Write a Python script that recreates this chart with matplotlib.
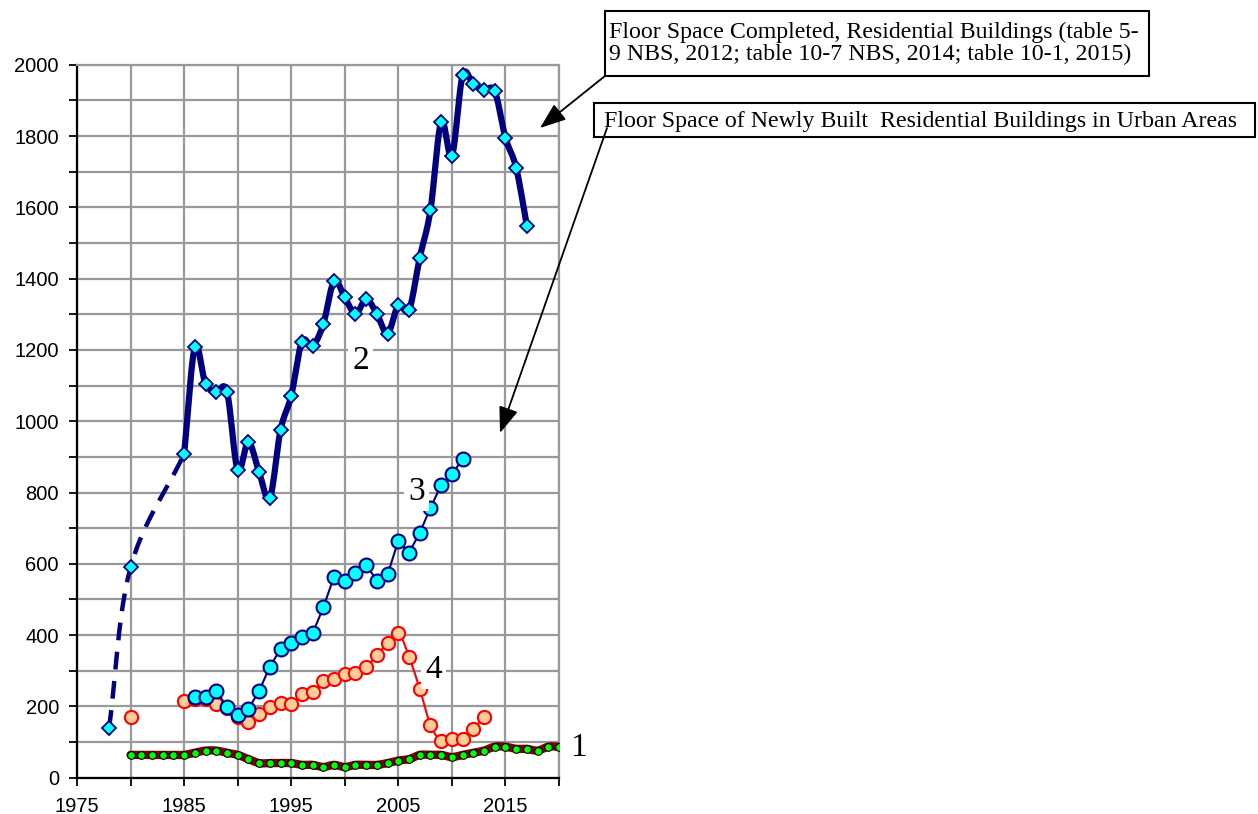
import numpy as np
import matplotlib
matplotlib.use("Agg")
import matplotlib.pyplot as plt
from matplotlib.patches import Rectangle, FancyArrowPatch

# ---------------- data ----------------
# Series 2: Floor space completed, residential buildings
s2_dash_years = [1978, 1980, 1985]
s2_dash_vals = [140, 590, 908]
s2_years = list(range(1985, 2018))
s2_vals = [908, 1207, 1105, 1082, 1083, 863, 942, 857, 784, 975, 1071, 1223, 1211,
           1273, 1393, 1347, 1301, 1342, 1301, 1246, 1326, 1312, 1459, 1592, 1840,
           1744, 1970, 1945, 1929, 1926, 1795, 1711, 1548]

# Series 3: floor space of newly built residential buildings in urban areas
s3_years = list(range(1986, 2012))
s3_vals = [227, 227, 243, 199, 176, 193, 243, 311, 361, 379, 396, 405, 478, 564,
           552, 575, 598, 552, 570, 665, 631, 687, 757, 821, 851, 894]

# Series 4
s4_single_year = [1980]
s4_single_val = [171]
s4_years = list(range(1985, 2014))
s4_vals = [215, 220, 222, 206, 195, 171, 155, 178, 199, 210, 206, 234, 239, 271,
           277, 290, 295, 311, 344, 379, 407, 339, 249, 148, 103, 109, 109, 137, 171]

# Series 1
s1_years = list(range(1980, 2021))
s1_vals = [64, 64, 64, 64, 64, 64, 70, 76, 76, 70, 64, 52, 41, 41, 41, 41, 36, 36,
           30, 36, 30, 36, 36, 36, 41, 48, 52, 64, 64, 64, 58, 64, 70, 76, 87, 87,
           81, 81, 76, 87, 87]

labels_text = ["1", "2", "3", "4"]
box1_text = ("Floor Space Completed, Residential Buildings (table 5-\n"
             "9 NBS, 2012; table 10-7 NBS, 2014; table 10-1, 2015)")
box2_text = "Floor Space of Newly Built  Residential Buildings in Urban Areas"

W, H = 1258, 814


def smooth(x, y, n=12):
    """Catmull-Rom rendering of a polyline (Excel-like smoothed line)."""
    x = np.asarray(x, float)
    y = np.asarray(y, float)
    if len(x) < 3:
        return x, y
    P = np.column_stack([x, y])
    P = np.vstack([2 * P[0] - P[1], P, 2 * P[-1] - P[-2]])
    out = []
    t = np.linspace(0, 1, n, endpoint=False)
    for i in range(1, len(P) - 2):
        p0, p1, p2, p3 = P[i - 1], P[i], P[i + 1], P[i + 2]
        tt = t[:, None]
        pts = 0.5 * ((2 * p1) + (-p0 + p2) * tt + (2 * p0 - 5 * p1 + 4 * p2 - p3) * tt ** 2
                     + (-p0 + 3 * p1 - 3 * p2 + p3) * tt ** 3)
        out.append(pts)
    out.append(P[-2][None, :])
    out = np.vstack(out)
    return out[:, 0], out[:, 1]


def fx(px):
    return px / W


def fy(py):
    return 1 - py / H


fig = plt.figure(figsize=(W / 100, H / 100), dpi=100)
ax = fig.add_axes([fx(77), fy(777.7), (559 - 77) / W, (777.7 - 64.7) / H])

navy = "#000080"
cyan = "#00FFFF"

# Series 1
sx, sy = smooth(s1_years, s1_vals)
ax.plot(sx, sy, color="#800000", lw=6, solid_capstyle="round", zorder=3)
ax.plot(s1_years, s1_vals, ls="none", marker="o", ms=5.5, mfc="#00FF00", mec="black",
        mew=0.8, zorder=4)

# Series 4
sx, sy = smooth(s4_years, s4_vals)
ax.plot(sx, sy, color="#FF0000", lw=1.5, zorder=3)
ax.plot(s4_years, s4_vals, ls="none", marker="o", ms=9.5, mfc="#FFCC99", mec="#FF0000",
        mew=1.5, zorder=4)
ax.plot(s4_single_year, s4_single_val, ls="none", marker="o", ms=9.5, mfc="#FFCC99",
        mec="#FF0000", mew=1.5, zorder=4)

# Series 3
ax.plot(s3_years, s3_vals, color=navy, lw=1.5, zorder=5)
ax.plot(s3_years, s3_vals, ls="none", marker="o", ms=10, mfc=cyan, mec=navy, mew=1.5,
        zorder=6)

# Series 2
dx, dy = smooth(s2_dash_years, s2_dash_vals)
ax.plot(dx, dy, color=navy, lw=3.2, ls=(0, (4, 2.6)), zorder=5)
sx, sy = smooth(s2_years, s2_vals)
ax.plot(sx, sy, color=navy, lw=4.5, solid_joinstyle="round", zorder=7)
ax.plot(s2_dash_years[:2], s2_dash_vals[:2], ls="none", marker="D", ms=7.5, mfc=cyan,
        mec=navy, mew=1.3, zorder=8)
ax.plot(s2_years, s2_vals, ls="none", marker="D", ms=7.5, mfc=cyan, mec=navy, mew=1.3,
        zorder=8)

# axes
ax.set_xlim(1975, 2020)
ax.set_ylim(0, 2000)
ax.set_xticks(np.arange(1975, 2021, 5))
ax.set_xticklabels([str(v) if (v - 1975) % 10 == 0 else "" for v in range(1975, 2021, 5)])
ax.set_yticks(np.arange(0, 2001, 200))
ax.set_yticks(np.arange(100, 2000, 200), minor=True)
ax.grid(True, which="both", color="#999999", lw=1.6, zorder=0)
ax.set_axisbelow(True)
for side in ["top", "right"]:
    ax.spines[side].set_color("#999999")
    ax.spines[side].set_linewidth(1.6)
for side in ["left", "bottom"]:
    ax.spines[side].set_color("black")
    ax.spines[side].set_linewidth(1.6)
ax.tick_params(axis="both", which="both", direction="out", length=6, width=1.3,
               labelsize=14.5)
ax.tick_params(axis="y", pad=7)
ax.tick_params(axis="x", pad=8)
for lab in ax.get_xticklabels() + ax.get_yticklabels():
    lab.set_fontfamily("Liberation Sans")

# number labels
serif = "Liberation Serif"
lab_kw = dict(fontsize=24, fontfamily=serif, ha="center", va="center", zorder=9,
              bbox=dict(boxstyle="square,pad=0.12", fc="white", ec="none"))
ax.text(2021.8, 83, labels_text[0], clip_on=False, fontsize=24, fontfamily=serif,
        ha="center", va="center")
ax.text(2001.5, 1169, labels_text[1], **lab_kw)
ax.text(2006.7, 801, labels_text[2], **lab_kw)
ax.text(2008.3, 302, labels_text[3], **lab_kw)

# annotation boxes
fig.add_artist(Rectangle((fx(605), fy(76)), (1149 - 605) / W, (76 - 11) / H,
                         transform=fig.transFigure, fc="white", ec="black", lw=1.5,
                         zorder=5))
fig.text(fx(609), fy(43.5), box1_text, fontsize=17.2, fontfamily=serif,
         ha="left", va="center", linespacing=1.1, zorder=6)
fig.add_artist(Rectangle((fx(594), fy(137)), (1255 - 594) / W, (137 - 103) / H,
                         transform=fig.transFigure, fc="white", ec="black", lw=1.5,
                         zorder=5))
fig.text(fx(604), fy(121), box2_text, fontsize=17.2, fontfamily=serif,
         ha="left", va="center", zorder=6)

arrow_kw = dict(arrowstyle="-|>,head_length=0.8,head_width=0.3", color="black", lw=1.3,
                shrinkA=0, shrinkB=0, mutation_scale=20, transform=fig.transFigure,
                zorder=7)
fig.add_artist(FancyArrowPatch((fx(605), fy(76)), (fx(540), fy(128)), **arrow_kw))
fig.add_artist(FancyArrowPatch((fx(607), fy(128)), (fx(500), fy(433)), **arrow_kw))

fig.savefig("out.png", dpi=100)
